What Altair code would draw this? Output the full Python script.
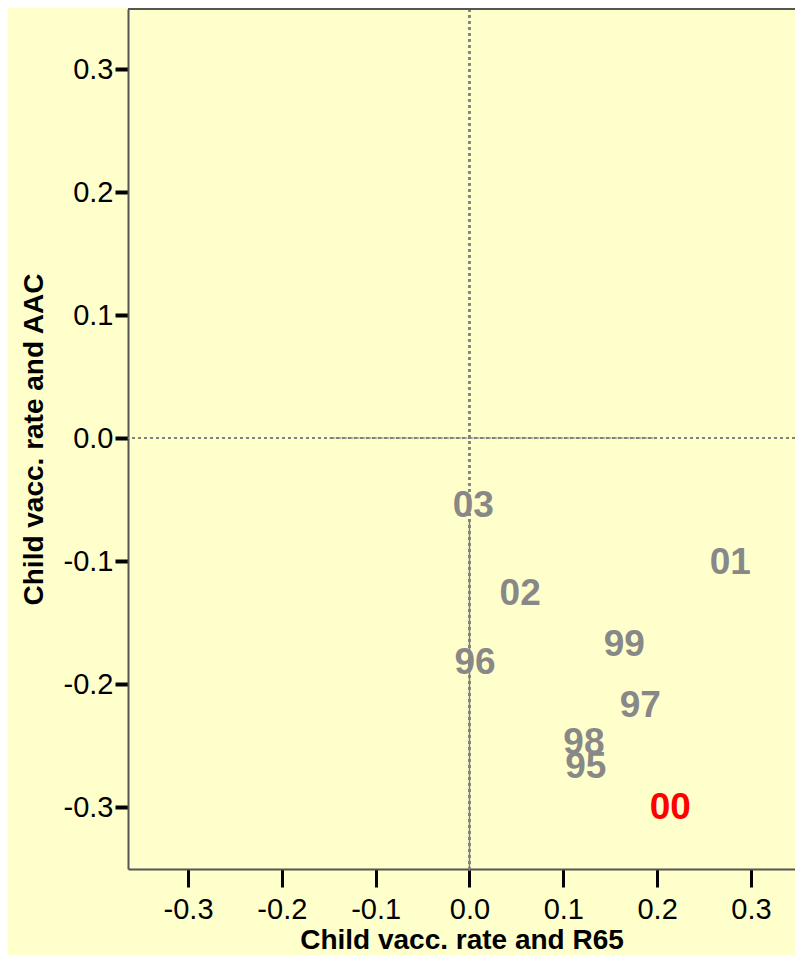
import altair as alt
import pandas as pd

# Data
labels = ["95", "96", "97", "98", "99", "00", "01", "02", "03"]
x_r65 = [0.124, 0.006, 0.182, 0.122, 0.165, 0.214, 0.278, 0.054, 0.004]
y_aac = [-0.266, -0.181, -0.216, -0.246, -0.167, -0.299, -0.100, -0.125, -0.054]
label_colors = ["#888888", "#888888", "#888888", "#888888", "#888888",
                "#FF0000", "#888888", "#888888", "#888888"]
tick_values = [-0.3, -0.2, -0.1, 0.0, 0.1, 0.2, 0.3]
# darker overlaid dashed segments on the zero lines
hseg_x = [-0.149, 0.198]
vseg_y = [-0.067, -0.352]

W, H = 667, 860
x_domain = [-0.364, 0.347]
y_domain = [-0.3504, 0.3488]

df = pd.DataFrame({"label": labels, "x": x_r65, "y": y_aac, "color": label_colors})
seg_h = pd.DataFrame({"x": [hseg_x[0]], "x2": [hseg_x[1]], "y": [0.0]})
seg_v = pd.DataFrame({"y": [vseg_y[0]], "y2": [vseg_y[1]], "x": [0.0]})

label_expr = ("abs(datum.value) < 0.001 ? '0.0' : (datum.value < 0 ? '-' + format(-datum.value, '.1f') "
              ": format(datum.value, '.1f'))")

xscale = alt.Scale(domain=x_domain, nice=False, zero=False)
yscale = alt.Scale(domain=y_domain, nice=False, zero=False)

xaxis = alt.Axis(title="Child vacc. rate and R65", values=tick_values, labelExpr=label_expr,
                 grid=False, tickSize=18, tickWidth=3, tickColor="black",
                 domainColor="#555555", domainWidth=2, labelPadding=8, titlePadding=2,
                 labelFontSize=29, titleFontSize=28, labelFont="Liberation Sans",
                 titleFont="Liberation Sans", titleFontWeight="bold",
                 labelColor="black", titleColor="black")
yaxis = alt.Axis(title="Child vacc. rate and AAC", values=tick_values, labelExpr=label_expr,
                 grid=False, tickSize=13, tickWidth=4, tickColor="black",
                 domainColor="#555555", domainWidth=2, labelPadding=2, titlePadding=15,
                 labelFontSize=29, titleFontSize=28, labelFont="Liberation Sans",
                 titleFont="Liberation Sans", titleFontWeight="bold",
                 labelColor="black", titleColor="black")

base = alt.Chart(df)

vline = base.mark_rule(color="#808080", strokeWidth=1.5, strokeDash=[3, 3]).encode(
    x=alt.X(datum=0.0, scale=xscale, axis=xaxis)
)
hline = base.mark_rule(color="#808080", strokeWidth=1.5, strokeDash=[3, 3]).encode(
    y=alt.Y(datum=0.0, scale=yscale, axis=yaxis)
)
hdark = alt.Chart(seg_h).mark_rule(color="#808080", strokeWidth=1.5, strokeDash=[5, 1]).encode(
    x=alt.X("x:Q", scale=xscale, axis=xaxis), x2="x2:Q", y=alt.Y("y:Q", scale=yscale, axis=yaxis)
)
vdark = alt.Chart(seg_v).mark_rule(color="#808080", strokeWidth=1.5, strokeDash=[5, 1]).encode(
    y=alt.Y("y:Q", scale=yscale, axis=yaxis), y2="y2:Q", x=alt.X("x:Q", scale=xscale, axis=xaxis)
)
texts = base.mark_text(font="Liberation Sans", fontSize=37, fontWeight="bold",
                       align="center", baseline="middle", dy=2).encode(
    x=alt.X("x:Q", scale=xscale, axis=xaxis),
    y=alt.Y("y:Q", scale=yscale, axis=yaxis),
    text="label:N",
    color=alt.Color("color:N", scale=None),
)
topline = base.mark_rule(color="#555555", strokeWidth=2).encode(
    x=alt.value(0), x2=alt.value(W), y=alt.value(0)
)

chart = alt.layer(vline, hline, hdark, vdark, texts, topline).properties(
    width=W, height=H,
    autosize=alt.AutoSizeParams(type="none"),
    padding={"left": 120, "top": 1, "right": 0, "bottom": 86},
    background="#FFFFCC",
).configure_view(stroke=None)

chart.save("out.html", embed_options={"renderer": "svg", "actions": False})
